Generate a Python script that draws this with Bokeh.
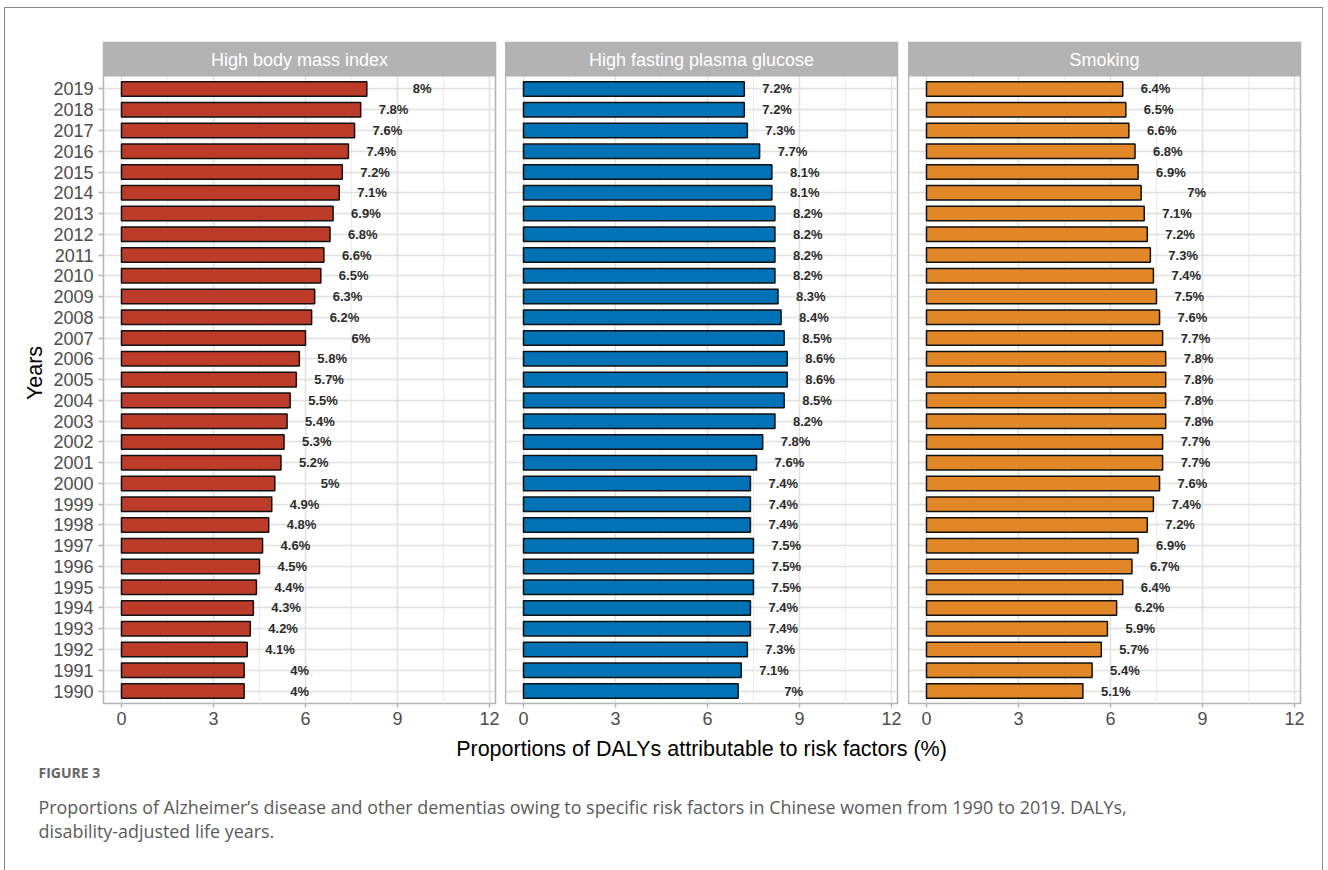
from bokeh.plotting import figure
from bokeh.layouts import row, column
from bokeh.models import Range1d, FixedTicker, Grid
from bokeh.core.properties import value
from bokeh.embed import file_html
from bokeh.resources import INLINE

# ---- data -------------------------------------------------------------
years = list(range(2019, 1989, -1))
risk_factors = ["High body mass index", "High fasting plasma glucose", "Smoking"]

bmi = [8, 7.8, 7.6, 7.4, 7.2, 7.1, 6.9, 6.8, 6.6, 6.5,
       6.3, 6.2, 6, 5.8, 5.7, 5.5, 5.4, 5.3, 5.2, 5,
       4.9, 4.8, 4.6, 4.5, 4.4, 4.3, 4.2, 4.1, 4, 4]
glucose = [7.2, 7.2, 7.3, 7.7, 8.1, 8.1, 8.2, 8.2, 8.2, 8.2,
           8.3, 8.4, 8.5, 8.6, 8.6, 8.5, 8.2, 7.8, 7.6, 7.4,
           7.4, 7.4, 7.5, 7.5, 7.5, 7.4, 7.4, 7.3, 7.1, 7]
smoking = [6.4, 6.5, 6.6, 6.8, 6.9, 7, 7.1, 7.2, 7.3, 7.4,
           7.5, 7.6, 7.7, 7.8, 7.8, 7.8, 7.8, 7.7, 7.7, 7.6,
           7.4, 7.2, 6.9, 6.7, 6.4, 6.2, 5.9, 5.7, 5.4, 5.1]

series = [bmi, glucose, smoking]
bar_colors = ["#BC3C29", "#0072B5", "#E18727"]
x_ticks = [0, 3, 6, 9, 12]
x_minor = [1.5, 4.5, 7.5, 10.5]

x_title = "Proportions of DALYs attributable to risk factors (%)"
y_title = "Years"
fig_tag = "FIGURE 3"
caption_lines = [
    "Proportions of Alzheimer\u2019s disease and other dementias owing to specific risk factors in Chinese women from 1990 to 2019. DALYs,",
    "disability-adjusted life years.",
]

# ---- styling ------------------------------------------------------------
SANS = "Liberation Sans"
GREY70 = "#B3B3B3"
GRID_MAJOR = "#E0E0E0"
GRID_MINOR = "#EDEDED"
TICK_TEXT = "#4D4D4D"

FRAME_W = 392
PANEL_H = 627
STRIP_H = 34
ROW_PX = PANEL_H / 30.2
X_LO, X_HI = -0.587, 12.196
Y_LO = 1989.4
Y_PANEL_TOP = 2019.6
Y_HI = Y_PANEL_TOP + STRIP_H / ROW_PX
BORDER_TOP = 34
BORDER_BOTTOM = 32
FIG_H = BORDER_TOP + PANEL_H + STRIP_H + BORDER_BOTTOM

borders = [(98, 10), (0, 11), (0, 22)]


def make_panel(i):
    left_b, right_b = borders[i]
    p = figure(
        width=left_b + FRAME_W + right_b, height=FIG_H,
        x_range=Range1d(X_LO, X_HI), y_range=Range1d(Y_LO, Y_HI),
        output_backend="svg", toolbar_location=None,
        y_axis_location="left" if i == 0 else None,
        min_border_left=left_b, min_border_right=right_b,
        min_border_top=BORDER_TOP, min_border_bottom=BORDER_BOTTOM,
    )
    p.background_fill_color = "white"
    p.border_fill_color = "white"
    p.outline_line_color = GREY70
    p.outline_line_width = 1.5

    # x axis
    xt = FixedTicker(ticks=x_ticks, minor_ticks=x_minor)
    p.xaxis.ticker = xt
    p.xaxis.axis_line_color = None
    p.xaxis.major_tick_line_color = GREY70
    p.xaxis.major_tick_line_width = 1.5
    p.xaxis.major_tick_out = 4
    p.xaxis.major_tick_in = 0
    p.xaxis.minor_tick_line_color = None
    p.xaxis.major_label_text_font = SANS
    p.xaxis.major_label_text_font_size = "18px"
    p.xaxis.major_label_text_color = TICK_TEXT
    p.xaxis.major_label_standoff = 4

    # y axis (first panel only)
    if i == 0:
        p.yaxis.ticker = FixedTicker(ticks=years)
        p.yaxis.major_label_overrides = {y: str(y) for y in years}
        p.yaxis.axis_line_color = None
        p.yaxis.major_tick_line_color = GREY70
        p.yaxis.major_tick_line_width = 1.5
        p.yaxis.major_tick_out = 5
        p.yaxis.major_tick_in = 0
        p.yaxis.minor_tick_line_color = None
        p.yaxis.major_label_text_font = SANS
        p.yaxis.major_label_text_font_size = "18px"
        p.yaxis.major_label_text_color = TICK_TEXT
        p.yaxis.major_label_standoff = 5
        p.yaxis.axis_label = y_title
        p.yaxis.axis_label_text_font = SANS
        p.yaxis.axis_label_text_font_style = "normal"
        p.yaxis.axis_label_text_font_size = "21.5px"
        p.yaxis.axis_label_text_color = "black"
        p.yaxis.axis_label_standoff = 3

    # grids
    p.xgrid.ticker = xt
    p.xgrid.grid_line_color = GRID_MAJOR
    p.xgrid.grid_line_width = 1.5
    p.xgrid.minor_grid_line_color = GRID_MINOR
    p.xgrid.minor_grid_line_width = 1
    p.ygrid.grid_line_color = None
    p.add_layout(Grid(dimension=1, ticker=FixedTicker(ticks=years),
                      grid_line_color=GRID_MAJOR, grid_line_width=1.5))

    # bars
    vals = series[i]
    p.hbar(y=years, left=0, right=vals, height=0.7,
           fill_color=bar_colors[i], line_color="#111111", line_width=1.5)

    # value labels; whole-number labels sit a little further out
    labels = [f"{v:g}%" for v in vals]
    dec = [k for k, t in enumerate(labels) if "." in t]
    whole = [k for k, t in enumerate(labels) if "." not in t]
    for idx, off in ((dec, 18), (whole, 46)):
        if not idx:
            continue
        p.text(x=[vals[k] for k in idx], y=[years[k] for k in idx],
               text=[labels[k] for k in idx], x_offset=off,
               text_align="left", text_baseline="middle",
               text_font=value(SANS), text_font_style="bold",
               text_font_size="13px", text_color="#2B2B2B")

    # facet strip on top of the frame
    p.quad(left=X_LO - 1, right=X_HI + 1, bottom=Y_PANEL_TOP, top=Y_HI + 1,
           fill_color=GREY70, line_color=None)
    p.text(x=[(X_LO + X_HI) / 2], y=[(Y_PANEL_TOP + Y_HI) / 2],
           text=[risk_factors[i]], text_align="center", text_baseline="middle",
           text_font=value(SANS), text_font_size="18px", text_color="white")
    return p


panels = [make_panel(i) for i in range(3)]
top = row(*panels, spacing=0)

# shared x-axis title and caption below the panels
CAP_W = sum(b[0] + FRAME_W + b[1] for b in borders)
CAP_H = 135
title_x = borders[0][0] + FRAME_W + borders[0][1] + FRAME_W / 2
cap = figure(width=CAP_W, height=CAP_H, x_range=Range1d(0, CAP_W),
             y_range=Range1d(CAP_H, 0), output_backend="svg",
             toolbar_location=None, x_axis_location=None, y_axis_location=None,
             min_border=0)
cap.outline_line_color = None
cap.xgrid.grid_line_color = None
cap.ygrid.grid_line_color = None
cap.text(x=[title_x], y=[13], text=[x_title], text_align="center",
         text_baseline="middle", text_font=value(SANS),
         text_font_size="21.5px", text_color="black")
cap.text(x=[33], y=[37], text=[fig_tag], text_baseline="middle",
         text_font=value("Open Sans"), text_font_style="bold",
         text_font_size="14px", text_color="#666666")
cap.text(x=[33, 33], y=[71, 95], text=caption_lines, text_baseline="middle",
         text_font=value("Open Sans"), text_font_size="17.9px",
         text_color="#5A5A5A")

page = column(top, cap, spacing=0, margin=(7, 0, 0, 4),
              styles={"border-top": "1.5px solid #8C8C8C",
                      "border-left": "1.5px solid #8C8C8C",
                      "border-right": "1.5px solid #8C8C8C"})

open("out.html", "w").write(file_html(page, INLINE))
